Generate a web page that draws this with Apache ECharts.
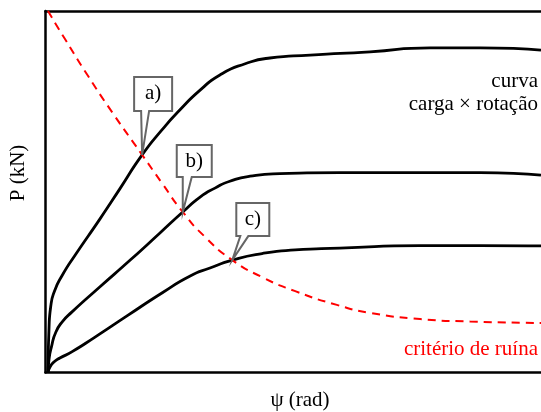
<!DOCTYPE html>
<html>
<head>
<meta charset="utf-8">
<script src="https://cdn.jsdelivr.net/npm/echarts@6/dist/echarts.min.js"></script>
<style>
  html, body { margin: 0; padding: 0; background: #fff; }
  #main { width: 541px; height: 412px; }
</style>
</head>
<body>
<div id="main"></div>
<script>
// curvas carga x rotação (unidades relativas, 0-100)
var curveA = [[0.5, 0], [0.7, 11.8], [1.1, 18.7], [1.9, 22.8], [3.3, 26.7], [6.0, 32.5], [11.0, 42.5],
  [15.0, 50.8], [19.5, 60.2], [23.5, 67.1], [27.1, 72.6], [31.2, 78.1], [35.2, 82.3], [40.3, 85.4],
  [45.3, 87.0], [53.4, 87.8], [65.5, 88.7], [77.6, 89.8], [87.7, 89.8], [100, 89.2]];
var curveB = [[0.5, 0], [0.7, 3.5], [1.2, 7.1], [2.1, 11.2], [3.5, 14.2], [5.3, 16.7], [11.0, 23.7],
  [17.1, 31.1], [23.1, 38.6], [27.7, 44.4], [31.2, 48.5], [34.2, 51.0], [37.2, 52.9], [41.3, 54.3],
  [47.3, 55.0], [59.4, 55.3], [75.6, 55.3], [87.7, 55.3], [100, 54.6]];
var curveC = [[0.5, 0], [0.9, 1.5], [1.7, 2.9], [2.9, 4.0], [5.3, 5.7], [10.0, 9.8], [16.6, 15.8],
  [23.5, 22.0], [29.2, 26.7], [33.2, 28.9], [37.7, 31.1], [43.7, 32.9], [50.4, 33.9], [59.4, 34.4],
  [75.6, 35.1], [87.7, 35.1], [100, 35.0]];
// critério de ruína
var ruina = [[0.5, 100], [3.9, 92.3], [8.6, 82.0], [13.4, 72.1], [19.5, 60.2], [23.5, 52.4],
  [27.7, 44.4], [32.2, 37.5], [37.7, 31.1], [43.7, 26.4], [50.4, 22.5], [58.8, 18.7], [65.5, 16.5],
  [75.6, 14.8], [85.7, 14.1], [100, 13.7]];
// pontos de ruína marcados
var calloutLabels = ['a)', 'b)', 'c)'];
var calloutPts = [[19.5, 60.2], [27.7, 44.4], [37.7, 31.1]];

// posição das caixas em relação à ponta (px): esquerda, direita, topo, base, base do bico
var calloutBox = [
  { l: -8, r: 30, t: -78, b: -44, p0: -1, p1: 7 },
  { l: -6, r: 29, t: -67, b: -35, p0: 0, p1: 9 },
  { l: 4, r: 37, t: -57, b: -24, p0: 8, p1: 16 }
];

var serif = "'Liberation Serif', 'Times New Roman', serif";
var myChart = echarts.init(document.getElementById('main'));

function lineSeries(data, color, type) {
  return {
    type: 'line',
    data: data,
    smooth: 0.6,
    symbol: 'none',
    lineStyle: { color: color, width: type ? 2 : 2.8, type: type || 'solid' },
    z: type ? 3 : 2
  };
}

var option = {
  animation: false,
  grid: { left: 45.5, right: 0, top: 11, bottom: 39.5 },
  xAxis: [{
    type: 'value', min: 0, max: 100,
    axisLine: { lineStyle: { color: '#000', width: 2.5 } },
    axisTick: { show: false }, axisLabel: { show: false }, splitLine: { show: false }
  }, {
    type: 'value', min: 0, max: 100, position: 'top',
    axisLine: { lineStyle: { color: '#000', width: 2.5 } },
    axisTick: { show: false }, axisLabel: { show: false }, splitLine: { show: false }
  }],
  yAxis: {
    type: 'value', min: 0, max: 100,
    axisLine: { show: true, lineStyle: { color: '#000', width: 2.5 } },
    axisTick: { show: false }, axisLabel: { show: false }, splitLine: { show: false }
  },
  graphic: [
    { type: 'text', x: 18, y: 173, rotation: Math.PI / 2,
      style: { text: 'P (kN)', font: '21px ' + serif, fill: '#000', align: 'center', verticalAlign: 'middle' } },
    { type: 'text', x: 300, y: 400,
      style: { text: 'ψ (rad)', font: '21px ' + serif, fill: '#000', align: 'center', verticalAlign: 'middle' } },
    { type: 'text', x: 538, y: 81,
      style: { text: 'curva', font: '21px ' + serif, fill: '#000', align: 'right', verticalAlign: 'middle' } },
    { type: 'text', x: 538, y: 104,
      style: { text: 'carga × rotação', font: '21px ' + serif, fill: '#000', align: 'right', verticalAlign: 'middle' } },
    { type: 'text', x: 538, y: 349,
      style: { text: 'critério de ruína', font: '21px ' + serif, fill: '#ff0000', align: 'right', verticalAlign: 'middle' } }
  ],
  series: [
    lineSeries(curveA, '#000'),
    lineSeries(curveB, '#000'),
    lineSeries(curveC, '#000'),
    lineSeries(ruina, '#ff0000', [8, 6]),
    {
      type: 'custom',
      data: calloutPts,
      clip: false,
      z: 5,
      renderItem: function (params, api) {
        var tip = api.coord([api.value(0), api.value(1)]);
        var b = calloutBox[params.dataIndex];
        var x = tip[0], y = tip[1];
        var pts = [
          [x + b.l, y + b.t], [x + b.r, y + b.t], [x + b.r, y + b.b],
          [x + b.p1, y + b.b], [x, y], [x + b.p0, y + b.b], [x + b.l, y + b.b]
        ];
        return {
          type: 'group',
          children: [{
            type: 'polygon',
            shape: { points: pts },
            style: { fill: '#fff', stroke: '#666', lineWidth: 2 }
          }, {
            type: 'text',
            x: x + (b.l + b.r) / 2,
            y: y + (b.t + b.b) / 2,
            style: { text: calloutLabels[params.dataIndex], font: '21px ' + serif, fill: '#000',
              align: 'center', verticalAlign: 'middle' }
          }]
        };
      }
    }
  ]
};

myChart.setOption(option);
</script>
</body>
</html>
